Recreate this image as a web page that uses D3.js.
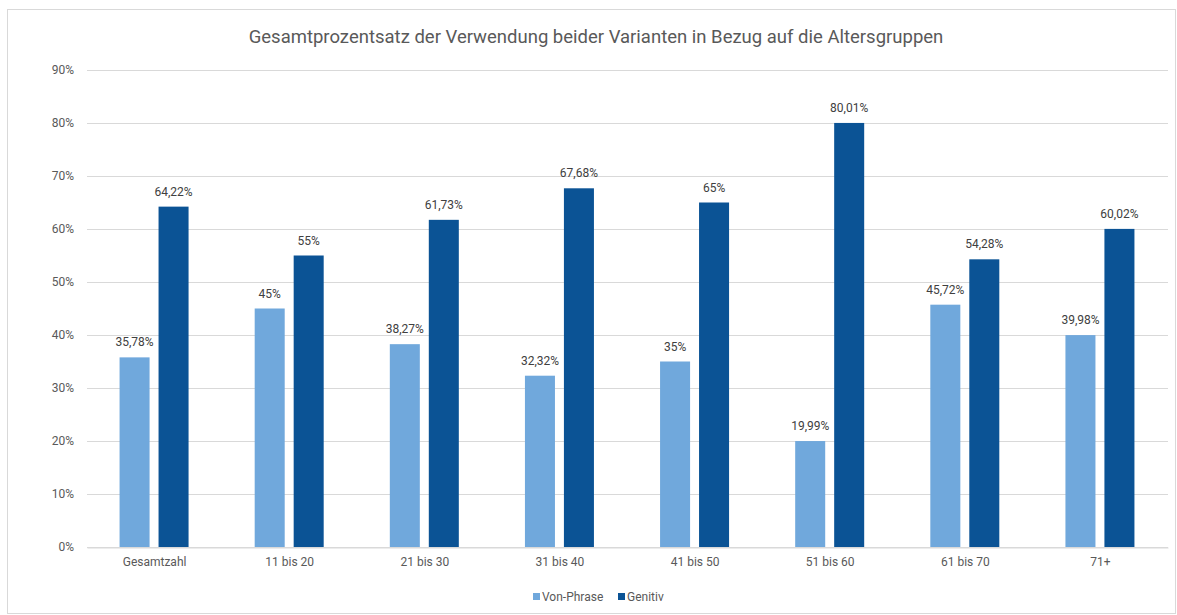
<!DOCTYPE html>
<html>
<head>
	<meta charset=utf-8>
	<title>Altersgruppen</title>
	<script src="https://d3js.org/d3.v7.min.js"></script>
	<style type="text/css">
		body{
			margin: 0;
			background: #fff;
			font-family: Roboto, "Noto Sans", sans-serif;
		}
	</style>
</head>
<body>
	<div id="chart"></div>

	<script type="text/javascript">
		const categories = ['Gesamtzahl', '11 bis 20', '21 bis 30', '31 bis 40', '41 bis 50', '51 bis 60', '61 bis 70', '71+'];
		const vonPhrase = [35.78, 45, 38.27, 32.32, 35, 19.99, 45.72, 39.98];
		const genitiv = [64.22, 55, 61.73, 67.68, 65, 80.01, 54.28, 60.02];
		const seriesNames = ['Von-Phrase', 'Genitiv'];
		const yTicks = [0, 10, 20, 30, 40, 50, 60, 70, 80, 90];

		const W = 1177, H = 615;
		const m = {top: 70, right: 9, bottom: 68, left: 87};
		const colors = ['#70A8DC', '#0B5395'];

		const svg = d3.select('#chart')
			.append('svg')
			.attr('width', W)
			.attr('height', H);

		// outer frame
		svg.append('rect')
			.attr('x', 7.5).attr('y', 9.5)
			.attr('width', W - 9).attr('height', H - 11)
			.attr('fill', '#fff')
			.attr('stroke', '#d9d9d9');

		svg.append('text')
			.attr('x', 596).attr('y', 43)
			.attr('text-anchor', 'middle')
			.attr('font-size', '18.5px')
			.attr('fill', '#595959')
			.text('Gesamtprozentsatz der Verwendung beider Varianten in Bezug auf die Altersgruppen');

		const x = d3.scaleBand()
			.domain(categories)
			.range([m.left, W - m.right]);

		// two bars of 30px with a 9px gap
		const x1 = d3.scaleBand()
			.domain(seriesNames)
			.range([0, 69])
			.paddingInner(0.23);

		const y = d3.scaleLinear()
			.domain([0, 90])
			.range([H - m.bottom, m.top]);

		// gridlines
		svg.append('g')
			.selectAll('line')
			.data(yTicks)
			.enter()
			.append('line')
			.attr('x1', m.left).attr('x2', W - m.right)
			.attr('y1', d => Math.round(y(d)) + 0.5)
			.attr('y2', d => Math.round(y(d)) + 0.5)
			.attr('stroke', '#d9d9d9');

		const yAxis = d3.axisLeft(y)
			.tickValues(yTicks)
			.tickFormat(d => d + '%')
			.tickSize(0)
			.tickPadding(13);

		svg.append('g')
			.attr('transform', `translate(${m.left}, 0)`)
			.call(yAxis)
			.call(g => g.select('.domain').remove())
			.selectAll('text')
			.attr('font-family', 'Roboto, sans-serif')
			.attr('font-size', '12px')
			.attr('fill', '#595959');

		const xAxis = d3.axisBottom(x)
			.tickSize(0)
			.tickPadding(10);

		svg.append('g')
			.attr('transform', `translate(0, ${Math.round(y(0)) + 0.5})`)
			.call(xAxis)
			.call(g => g.select('.domain').attr('stroke', '#d9d9d9'))
			.selectAll('text')
			.attr('font-family', 'Roboto, sans-serif')
			.attr('font-size', '12px')
			.attr('fill', '#595959');

		const rows = categories.map((c, i) => ({cat: c, vals: [vonPhrase[i], genitiv[i]]}));

		const groups = svg.append('g')
			.selectAll('g')
			.data(rows)
			.enter()
			.append('g')
			.attr('transform', d => `translate(${x(d.cat) + x.bandwidth() / 2 - 35}, 0)`);

		const bars = groups.selectAll('g')
			.data(d => d.vals.map((v, i) => ({key: seriesNames[i], val: v, i: i})))
			.enter()
			.append('g');

		bars.append('rect')
			.attr('x', d => x1(d.key))
			.attr('y', d => y(d.val))
			.attr('width', x1.bandwidth())
			.attr('height', d => y(0) - y(d.val))
			.attr('fill', d => colors[d.i]);

		bars.append('text')
			.attr('x', d => x1(d.key) + x1.bandwidth() / 2)
			.attr('y', d => y(d.val) - 11)
			.attr('text-anchor', 'middle')
			.attr('font-size', '12px')
			.attr('fill', '#404040')
			.text(d => String(d.val).replace('.', ',') + '%');

		// legend
		const legend = svg.append('g')
			.attr('transform', 'translate(533, 593)');

		const li = legend.selectAll('g')
			.data(seriesNames)
			.enter()
			.append('g')
			.attr('transform', (d, i) => `translate(${i * 85}, 0)`);

		li.append('rect')
			.attr('width', 7).attr('height', 7)
			.attr('fill', (d, i) => colors[i]);

		li.append('text')
			.attr('x', 9).attr('y', 8)
			.attr('font-size', '12px')
			.attr('fill', '#595959')
			.text(d => d);
	</script>
</body>
</html>
